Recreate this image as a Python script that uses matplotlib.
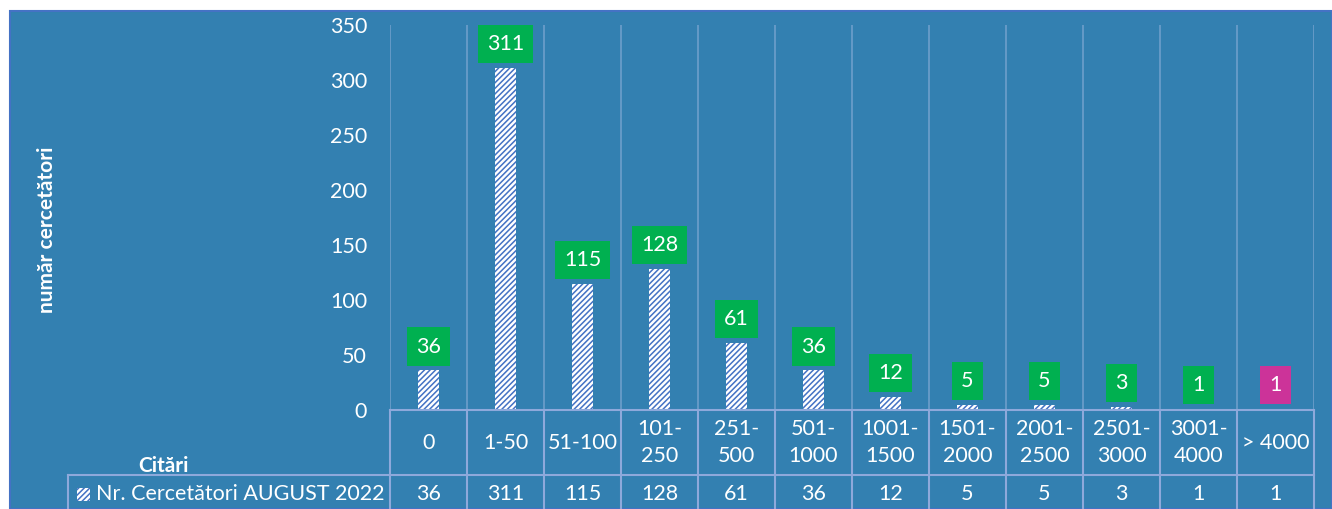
import matplotlib.pyplot as plt
from matplotlib.patches import Rectangle
import matplotlib.transforms as mtransforms

plt.rcParams['font.family'] = ['Lato', 'DejaVu Sans']
plt.rcParams['hatch.linewidth'] = 1.1

# date
categorii = ['0', '1-50', '51-100', '101-\n250', '251-\n500', '501-\n1000', '1001-\n1500',
             '1501-\n2000', '2001-\n2500', '2501-\n3000', '3001-\n4000', '> 4000']
valori = [36, 311, 115, 128, 61, 36, 12, 5, 5, 3, 1, 1]
culori_eticheta = ['#00B050'] * 11 + ['#CC3399']
serie = 'Nr. Cercetători AUGUST 2022'

fundal = '#3380B1'
linie_tabel = '#8EA9DB'
grila = '#6D9FCB'
fs = 15.5

fig = plt.figure(figsize=(13.32, 5.09), dpi=100)
fig.patch.set_facecolor('white')
fig.patches.append(Rectangle((10 / 1332, 0), 1322 / 1332, 498 / 509, transform=fig.transFigure,
                             facecolor=fundal, edgecolor='#4472C4', lw=1.5, zorder=-10))

ax = fig.add_axes([390 / 1332, 99 / 509, 924 / 1332, 385 / 509])
ax.set_facecolor('none')
x = list(range(len(valori)))

ax.vlines([i - 0.5 for i in range(len(valori) + 1)], 0, 350, color=grila, lw=1.2, zorder=1)
ax.bar(x, valori, width=0.27, color='white', edgecolor='#4472C4', hatch='//////', lw=0, zorder=2)

for i, v in enumerate(valori):
    ax.annotate(str(v), (i, v), xytext=(0, 10), textcoords='offset points', ha='center', va='bottom',
                color='white', fontsize=fs, zorder=3,
                bbox=dict(boxstyle='square,pad=0.42', fc=culori_eticheta[i], ec='none'))

ax.set_xlim(-0.5, len(valori) - 0.5)
ax.set_ylim(0, 350)
ax.set_yticks(range(0, 351, 50))
ax.tick_params(axis='y', length=0, pad=16.5, labelsize=fs, labelcolor='white')
ax.set_xticks([])
for s in ax.spines.values():
    s.set_visible(False)

ax.set_ylabel('număr cercetători', color='white', fontsize=15, fontweight='bold')
ax.yaxis.set_label_coords(-0.360, 0.4675)

# tabelul de date
tr = mtransforms.blended_transform_factory(ax.transData, ax.transAxes)
x_stanga = -0.5 + (68 - 390) / 77
rand1 = -0.169
ax.plot([-0.5, 11.5], [0, 0], transform=tr, color=linie_tabel, lw=1.5, clip_on=False)
ax.plot([x_stanga, 11.5], [rand1, rand1], transform=tr, color=linie_tabel, lw=1.5, clip_on=False)
for i in range(len(valori) + 1):
    ax.plot([i - 0.5, i - 0.5], [0, -0.4], transform=tr, color=linie_tabel, lw=1.5, clip_on=False)
ax.plot([x_stanga, x_stanga], [rand1, -0.4], transform=tr, color=linie_tabel, lw=1.5, clip_on=False)

for i, c in enumerate(categorii):
    ax.text(i, -0.0845, c, transform=tr, ha='center', va='center', color='white',
            fontsize=fs, linespacing=1.4)
    ax.text(i, -0.218, str(valori[i]), transform=tr, ha='center', va='center', color='white',
            fontsize=fs)

ax.text(-0.5 + (163 - 390) / 77, -0.145, 'Citări', transform=tr, ha='center', va='center',
        color='white', fontsize=15, fontweight='bold')
ax.add_patch(Rectangle((-0.5 + (77 - 390) / 77, -0.236), 13 / 77, 13 / 385, transform=tr,
                       facecolor='white', edgecolor='#4472C4', hatch='//////', lw=0, clip_on=False))
ax.text(-0.5 + (96 - 390) / 77, -0.218, serie, transform=tr, ha='left', va='center',
        color='white', fontsize=fs)

fig.savefig('out.png', dpi=100)
